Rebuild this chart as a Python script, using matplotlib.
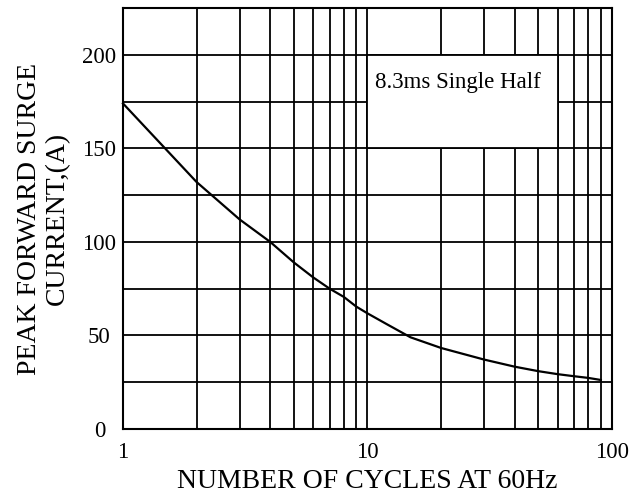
import matplotlib
matplotlib.use('Agg')
import matplotlib.pyplot as plt
from matplotlib.patches import Rectangle

# surge curve
cycles = [1, 2, 3, 4, 5, 6, 7, 8, 9, 10, 12, 15, 20, 30, 40, 50, 60, 70, 80, 90]
current = [174, 132, 112, 100, 89, 81, 75, 70.6, 65.4, 61.8, 56, 49, 43.3, 37.1, 33.3, 30.9, 29.3, 28.2, 27.3, 26.2]

y_ticks = [0, 50, 100, 150, 200]
x_ticks = [1, 10, 100]
x_tick_labels = ['1', '10', '100']

plt.rcParams['font.family'] = ['Liberation Serif', 'DejaVu Serif']

fig = plt.figure(figsize=(6.29, 5), dpi=100)
ax = fig.add_axes([0.1955, 0.142, 0.7775, 0.842])

ax.set_xscale('log')
ax.set_xlim(1, 100)
ax.set_ylim(0, 225)

# grid: every integer on the log axis, every 25 A
ax.set_xticks(x_ticks)
ax.set_xticklabels(x_tick_labels)
ax.set_xticks([m * d for d in (1, 10) for m in range(2, 10)], minor=True)
ax.set_xticklabels([], minor=True)
ax.set_yticks(y_ticks)
ax.set_yticks([25, 75, 125, 175], minor=True)
ax.grid(True, which='both', color='black', linewidth=1.3)
ax.set_axisbelow(True)
ax.tick_params(which='both', length=0, labelsize=16.5, colors='black')
ax.tick_params(axis='x', pad=9)
ax.tick_params(axis='y', pad=17)
for lbl in ax.get_yticklabels():
    lbl.set_horizontalalignment('center')

for s in ax.spines.values():
    s.set_linewidth(1.5)
    s.set_color('black')

# blank panel for the note
ax.add_patch(Rectangle((10, 150), 50, 50, facecolor='white', edgecolor='black',
                       linewidth=1.3, zorder=1.5))
ax.text(10.7, 185, '8.3ms Single Half', fontsize=16.5, va='center', ha='left', zorder=3)

ax.plot(cycles, current, color='black', linewidth=1.6, zorder=4, clip_on=False)

ax.set_xlabel('NUMBER OF CYCLES AT 60Hz', fontsize=20, labelpad=5)
ax.set_ylabel('PEAK FORWARD SURGE\nCURRENT,(A)', fontsize=20, labelpad=9, linespacing=1.15)

plt.savefig('out.png', dpi=100)
plt.close()
